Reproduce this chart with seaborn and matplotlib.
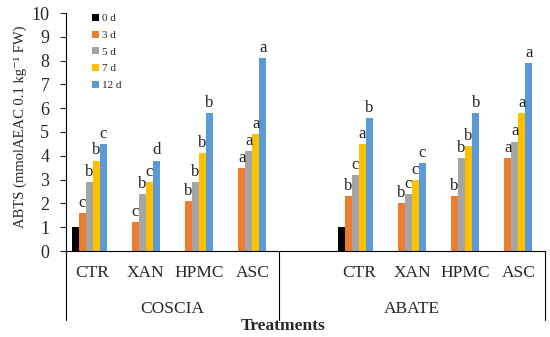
import numpy as np
import pandas as pd
import seaborn as sns
import matplotlib
matplotlib.use("Agg")
import matplotlib.pyplot as plt
from matplotlib.patches import Patch

# ---- data ----
slots = ["COSCIA CTR", "COSCIA XAN", "COSCIA HPMC", "COSCIA ASC", "gap",
         "ABATE CTR", "ABATE XAN", "ABATE HPMC", "ABATE ASC"]
slot_labels = ["CTR", "XAN", "HPMC", "ASC", "", "CTR", "XAN", "HPMC", "ASC"]
days = ["0 d", "3 d", "5 d", "7 d", "12 d"]
nan = np.nan
vals = {
    "0 d":  [1.0, nan, nan, nan, nan, 1.0, nan, nan, nan],
    "3 d":  [1.6, 1.2, 2.1, 3.5, nan, 2.3, 2.0, 2.3, 3.9],
    "5 d":  [2.9, 2.4, 2.9, 4.2, nan, 3.2, 2.4, 3.9, 4.6],
    "7 d":  [3.8, 2.9, 4.1, 4.9, nan, 4.5, 3.0, 4.4, 5.8],
    "12 d": [4.5, 3.8, 5.8, 8.1, nan, 5.6, 3.7, 5.8, 7.9],
}
letters = {
    "0 d":  ["", "", "", "", "", "", "", "", ""],
    "3 d":  ["c", "c", "b", "a", "", "b", "b", "b", "a"],
    "5 d":  ["b", "b", "b", "a", "", "c", "c", "b", "a"],
    "7 d":  ["b", "c", "b", "a", "", "a", "c", "b", "a"],
    "12 d": ["c", "d", "b", "a", "", "b", "c", "b", "a"],
}
groups = ["COSCIA", "ABATE"]
colors = ["#000000", "#ED7D31", "#A5A5A5", "#FFC000", "#5B9BD5"]

rows = []
for d in days:
    for s, v in zip(slots, vals[d]):
        rows.append({"slot": s, "day": d, "value": v})
df = pd.DataFrame(rows)

sns.set_style("white")
FAM = ["Liberation Serif", "DejaVu Serif"]
plt.rcParams["font.family"] = FAM

fig = plt.figure(figsize=(5.5, 3.37), dpi=100)
ax = fig.add_axes([66/550, 1 - 251/337, 479/550, 238/337])

hue_order = days + ["_pad"]
palette = dict(zip(days, colors))
palette["_pad"] = "#ffffff"
W = 0.79
sns.barplot(data=df, x="slot", y="value", hue="day", order=slots,
            hue_order=hue_order, palette=palette, width=W,
            saturation=1, ax=ax, legend=False, linewidth=0)

# letters above bars
nh = len(hue_order)
bw = W / nh
for p in ax.patches:
    h = p.get_height()
    if not np.isfinite(h) or h <= 0:
        continue
    xc = p.get_x() + p.get_width() / 2
    best = None
    for i in range(len(slots)):
        for j in range(len(days)):
            xx = i - W/2 + (j + 0.5) * bw
            if abs(xx - xc) < bw / 3:
                best = (i, j)
    if best is None:
        continue
    i, j = best
    lab = letters[days[j]][i]
    if lab:
        ax.annotate(lab, (xc, h), xytext=(0, 1.5), textcoords="offset points",
                    ha="center", va="bottom", fontsize=12)

ax.set_xlim(-0.5, len(slots) - 0.5)
ax.set_ylim(0, 10)
ax.set_yticks(range(0, 11))
ax.tick_params(axis="y", direction="out", length=4, width=0.8, labelsize=13, pad=8, left=True)
ax.set_xticks(range(len(slots)))
ax.set_xticklabels(slot_labels)
ax.tick_params(axis="x", length=0, labelsize=12.5, pad=10)
for lab in ax.get_yticklabels() + ax.get_xticklabels():
    lab.set_family(FAM)

for s in ["top", "right"]:
    ax.spines[s].set_visible(False)
for s in ["left", "bottom"]:
    ax.spines[s].set_color("#000000")
    ax.spines[s].set_linewidth(0.8)

ax.set_xlabel("")
ax.set_ylabel("ABTS (mmolAEAC 0.1 kg\u207b\u00b9 FW)", fontsize=10.5)
ax.yaxis.label.set_family(FAM)
ax.yaxis.set_label_coords((27 - 66) / 479, (251 - 127) / 238)

# group brackets
trans = ax.get_xaxis_transform()
ylow = -(320 - 251) / 238
for xv in [-0.5, 3.5, 8.5]:
    ax.plot([xv, xv], [0, ylow], transform=trans, color="black", lw=0.8, clip_on=False)
ax.text(1.5, -(309 - 251) / 238, groups[0], transform=trans, ha="center", va="center", fontsize=12.5)
ax.text(6.0, -(309 - 251) / 238, groups[1], transform=trans, ha="center", va="center", fontsize=12.5)
fig.text(283/550, 1 - 326/337, "Treatments", ha="center", va="center",
         fontsize=12.5, fontweight="bold")

handles = [Patch(facecolor=c, edgecolor="none") for c in colors]
ax.legend(handles, days, loc="upper left", bbox_to_anchor=(0.045, 1.015),
          frameon=False, fontsize=8, handlelength=0.6, handleheight=0.6,
          handletextpad=0.3, labelspacing=0.65, borderaxespad=0)

fig.savefig("out.png", dpi=100)
